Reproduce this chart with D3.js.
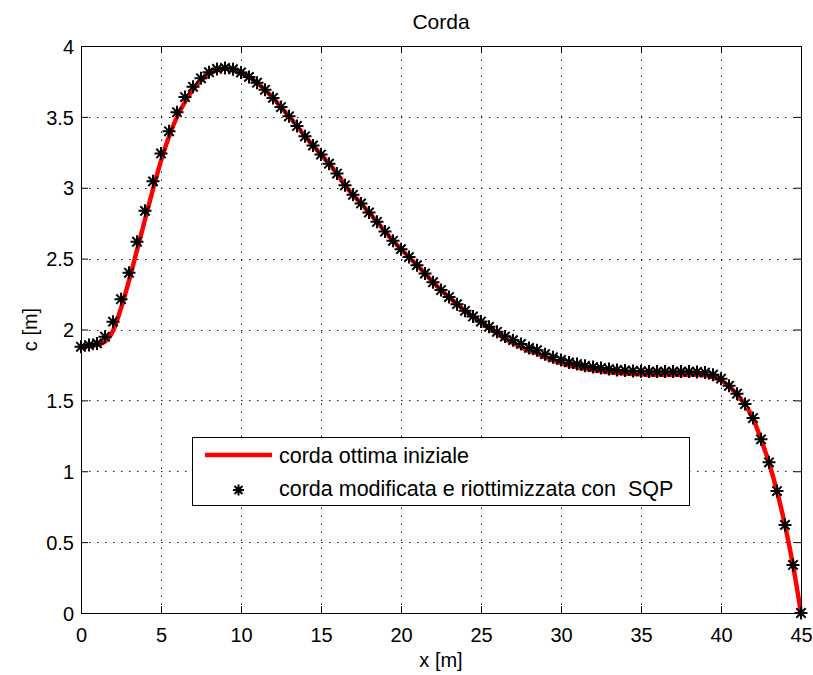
<!DOCTYPE html>
<html>
<head>
<meta charset="utf-8">
<script src="https://cdn.jsdelivr.net/npm/d3@7"></script>
<style>
  html, body { margin: 0; padding: 0; background: #fff; }
  svg { display: block; font-family: "Liberation Sans", Arial, Helvetica, sans-serif; }
  text { fill: #000; }
</style>
</head>
<body>
<svg id="chart" width="813" height="675"></svg>
<script>
// Spanwise stations [m], one every 0.5 m
const stations = d3.range(0, 45.0001, 0.5);

// Initial optimal chord (red line), c [m] at each station
const chordInitial = [
  1.878, 1.884, 1.892, 1.915, 1.990, 2.150, 2.345, 2.560, 2.775, 2.990,
  3.190, 3.362, 3.500, 3.606, 3.693, 3.757, 3.803, 3.830, 3.842, 3.836,
  3.814, 3.782, 3.741, 3.691, 3.634, 3.569, 3.504, 3.436, 3.363, 3.298,
  3.234, 3.170, 3.100, 3.017, 2.950, 2.889, 2.826, 2.760, 2.691, 2.626,
  2.567, 2.511, 2.454, 2.395, 2.334, 2.278, 2.229, 2.179, 2.132, 2.090,
  2.050, 2.010, 1.972, 1.935, 1.905, 1.876, 1.848, 1.832, 1.804, 1.782,
  1.763, 1.746, 1.734, 1.722, 1.713, 1.706, 1.699, 1.693, 1.689, 1.686,
  1.684, 1.681, 1.681, 1.681, 1.681, 1.681, 1.681, 1.680, 1.676, 1.663,
  1.641, 1.598, 1.542, 1.470, 1.373, 1.225, 1.060, 0.858, 0.620, 0.338,
  0.000
];

// Chord modified and re-optimised with SQP (asterisks), c [m]
const chordSQP = [
  1.878, 1.890, 1.902, 1.949, 2.055, 2.214, 2.400, 2.619, 2.837, 3.045,
  3.242, 3.398, 3.533, 3.640, 3.712, 3.772, 3.815, 3.838, 3.845, 3.836,
  3.813, 3.782, 3.741, 3.691, 3.634, 3.569, 3.504, 3.436, 3.363, 3.298,
  3.234, 3.170, 3.100, 3.017, 2.950, 2.889, 2.826, 2.760, 2.691, 2.626,
  2.567, 2.511, 2.454, 2.395, 2.334, 2.278, 2.229, 2.179, 2.132, 2.092,
  2.056, 2.019, 1.984, 1.950, 1.925, 1.898, 1.870, 1.854, 1.826, 1.804,
  1.785, 1.768, 1.756, 1.744, 1.735, 1.728, 1.721, 1.715, 1.711, 1.708,
  1.706, 1.703, 1.703, 1.703, 1.703, 1.703, 1.703, 1.701, 1.696, 1.681,
  1.653, 1.603, 1.547, 1.474, 1.375, 1.225, 1.063, 0.860, 0.621, 0.339,
  0.000
];

const xTickValues = [0, 5, 10, 15, 20, 25, 30, 35, 40, 45];
const xTickLabels = ["0", "5", "10", "15", "20", "25", "30", "35", "40", "45"];
const yTickValues = [0, 0.5, 1, 1.5, 2, 2.5, 3, 3.5, 4];
const yTickLabels = ["0", "0.5", "1", "1.5", "2", "2.5", "3", "3.5", "4"];

const titleText = "Corda";
const xLabelText = "x [m]";
const yLabelText = "c [m]";
const legendLabels = ["corda ottima iniziale", "corda modificata e riottimizzata con  SQP"];

// Plot frame
const plot = { left: 81, top: 46, right: 801, bottom: 613 };
const svg = d3.select("#chart");

const x = d3.scaleLinear().domain([0, 45]).range([plot.left, plot.right]);
const y = d3.scaleLinear().domain([0, 4]).range([plot.bottom, plot.top]);

// Dotted grid
const grid = svg.append("g")
  .attr("stroke", "#000")
  .attr("stroke-width", 1)
  .attr("stroke-dasharray", "1.5,6.5")
  .attr("opacity", 0.9);
grid.selectAll("line.vx")
  .data(xTickValues.slice(1, -1))
  .join("line")
  .attr("x1", d => Math.round(x(d)) + 0.5).attr("x2", d => Math.round(x(d)) + 0.5)
  .attr("y1", plot.bottom).attr("y2", plot.top);
grid.selectAll("line.hy")
  .data(yTickValues.slice(1, -1))
  .join("line")
  .attr("y1", d => Math.round(y(d)) + 0.5).attr("y2", d => Math.round(y(d)) + 0.5)
  .attr("x1", plot.left).attr("x2", plot.right);

// Initial chord curve
const line = d3.line()
  .x((d, i) => x(stations[i]))
  .y(d => y(d))
  .curve(d3.curveMonotoneX);

svg.append("path")
  .datum(chordInitial)
  .attr("fill", "none")
  .attr("stroke", "#ff0000")
  .attr("stroke-width", 4.5)
  .attr("stroke-linejoin", "round")
  .attr("d", line);

// Asterisk marker: a plus and a cross sharing one centre
function asterisk(cx, cy, r) {
  const k = r * 0.72;
  return `M${cx - r},${cy}L${cx + r},${cy}` +
         `M${cx},${cy - r}L${cx},${cy + r}` +
         `M${cx - k},${cy - k}L${cx + k},${cy + k}` +
         `M${cx - k},${cy + k}L${cx + k},${cy - k}`;
}

svg.append("g")
  .selectAll("path")
  .data(chordSQP)
  .join("path")
  .attr("fill", "none")
  .attr("stroke", "#000")
  .attr("stroke-width", 2)
  .attr("d", (d, i) => asterisk(x(stations[i]), y(d), 6.5));

// Axes with inward ticks on all four sides
const tickLen = 7;
const fontTick = "20px";

const xAxis = svg.append("g")
  .attr("transform", `translate(0,${plot.bottom})`)
  .call(d3.axisBottom(x).tickValues(xTickValues)
    .tickFormat((d, i) => xTickLabels[i])
    .tickSizeInner(-tickLen).tickSizeOuter(0).tickPadding(10));
xAxis.selectAll("text").attr("font-size", fontTick).attr("dy", "0.95em");

const yAxis = svg.append("g")
  .attr("transform", `translate(${plot.left},0)`)
  .call(d3.axisLeft(y).tickValues(yTickValues)
    .tickFormat((d, i) => yTickLabels[i])
    .tickSizeInner(-tickLen).tickSizeOuter(0));
yAxis.selectAll("text").attr("font-size", fontTick).attr("x", -7).attr("dy", "0.36em");

svg.append("g")
  .attr("transform", `translate(0,${plot.top})`)
  .call(d3.axisTop(x).tickValues(xTickValues).tickFormat("")
    .tickSizeInner(-tickLen).tickSizeOuter(0));
svg.append("g")
  .attr("transform", `translate(${plot.right},0)`)
  .call(d3.axisRight(y).tickValues(yTickValues).tickFormat("")
    .tickSizeInner(-tickLen).tickSizeOuter(0));

svg.selectAll(".domain, .tick line").attr("stroke", "#000").attr("stroke-width", 1);
svg.selectAll(".tick text").attr("fill", "#000").attr("font-family", null);

// Titles
svg.append("text")
  .attr("x", (plot.left + plot.right) / 2).attr("y", 29)
  .attr("text-anchor", "middle").attr("font-size", "21px")
  .text(titleText);
svg.append("text")
  .attr("x", (plot.left + plot.right) / 2).attr("y", 667)
  .attr("text-anchor", "middle").attr("font-size", "20px")
  .text(xLabelText);
svg.append("text")
  .attr("transform", `translate(37,${(plot.top + plot.bottom) / 2}) rotate(-90)`)
  .attr("text-anchor", "middle").attr("font-size", "20px")
  .text(yLabelText);

// Legend
const legend = svg.append("g");
legend.append("rect")
  .attr("x", 192.5).attr("y", 437.5).attr("width", 497).attr("height", 68)
  .attr("fill", "#fff").attr("stroke", "#000").attr("stroke-width", 1);
legend.append("line")
  .attr("x1", 205).attr("x2", 272).attr("y1", 455).attr("y2", 455)
  .attr("stroke", "#ff0000").attr("stroke-width", 4.5);
legend.append("path")
  .attr("d", asterisk(238.5, 490, 5.5))
  .attr("fill", "none").attr("stroke", "#000").attr("stroke-width", 2);
legend.selectAll("text")
  .data(legendLabels)
  .join("text")
  .attr("x", 279)
  .attr("y", (d, i) => [463, 496][i])
  .attr("font-size", "21.5px")
  .style("white-space", "pre")
  .text(d => d);
</script>
</body>
</html>
